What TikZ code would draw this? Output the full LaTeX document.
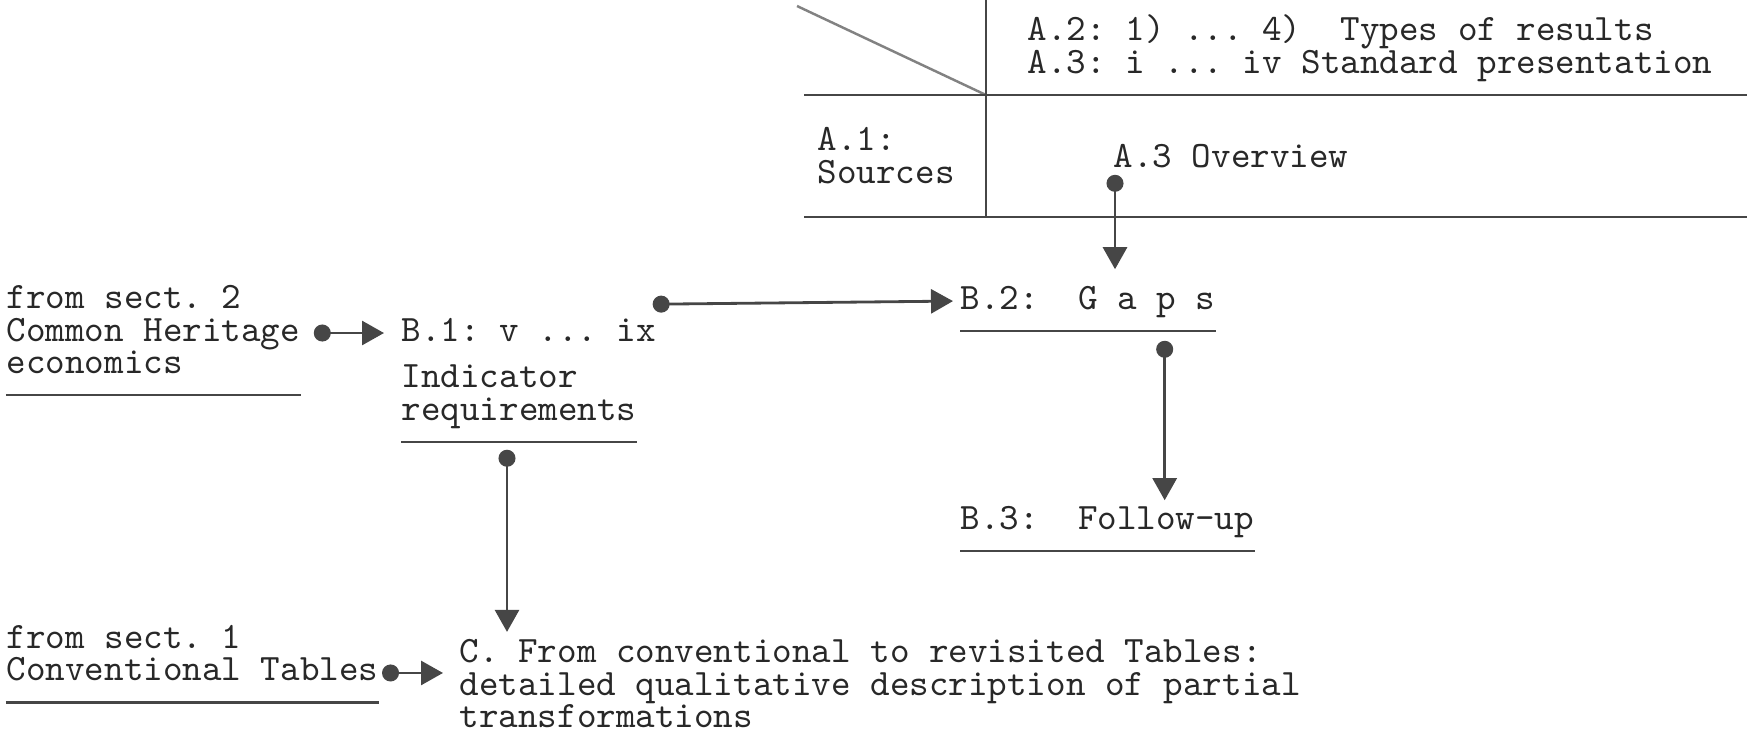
\documentclass[tikz,border=0pt]{standalone}
\usepackage{fontspec}
\usepackage{tikz}
\usetikzlibrary{arrows.meta}
\definecolor{inkDark}{RGB}{40,40,40}
\definecolor{ruleGray}{RGB}{70,70,70}
\definecolor{diagGray}{RGB}{130,130,130}
\frenchspacing

\begin{document}
\begin{tikzpicture}[
  txt/.style={inner sep=0pt, anchor=west, align=left, text=inkDark, text depth=0.07cm,
    font=\ttfamily\fontsize{10.6}{9.2}\selectfont},
  rule/.style={ruleGray, line width=0.7pt},
  link/.style={ruleGray, line width=0.8pt, {Circle[length=0.17cm]}-{Triangle[length=0.22cm,width=0.24cm]}}
]
\useasboundingbox (0,0) rectangle (17.47,7.49);
% part A: the table head
\draw[diagGray, line width=0.7pt] (7.97,7.43) -- (9.86,6.54);
\draw[rule] (9.86,7.49) -- (9.86,5.32);
\draw[rule] (8.04,6.54) -- (17.47,6.54);
\draw[rule] (8.04,5.32) -- (17.47,5.32);
\node[txt] (a2) at (10.27,7.015) {A.2: 1) ... 4)~~Types of results\\A.3: i ... iv Standard presentation};
\node[txt] (a1) at (8.17,5.90) {A.1:\\Sources};
\node[txt] (ov) at (11.13,5.90) {A.3 Overview};
% part B
\node[txt] (ch) at (0.06,4.16) {from sect. 2\\Common Heritage\\economics};
\node[txt] (b1) at (4.01,4.16) {B.1: v ... ix};
\node[txt] (ind) at (4.01,3.53) {Indicator\\requirements};
\node[txt] (b2) at (9.60,4.48) {B.2:~~G a p s};
\node[txt] (b3) at (9.60,2.28) {B.3:~~Follow-up};
% part C
\node[txt] (ct) at (0.06,0.925) {from sect. 1\\Conventional Tables};
\node[txt] (cn) at (4.59,0.62) {C. From conventional to revisited Tables:\\detailed qualitative description of partial\\transformations};
% underlines
\foreach \n in {ch,ind,b2,b3,ct}
  \draw[rule] ([yshift=-0.14cm]\n.south west) -- ([yshift=-0.14cm]\n.south east);
% connectors
\draw[link, shorten <=0.13cm, shorten >=0.17cm] (ch.east) -- (b1.west);
\draw[link, shorten >=0.07cm] ([shift={(-0.04,0.13)}]b1.north east) -- (b2.west);
\draw[link, shorten >=0.16cm] ([xshift=0.02cm]ov.south west) -- ([xshift=0.02cm]ov.south west |- b2.north);
\draw[link, shorten <=0.24cm, shorten >=0.05cm] ([xshift=-0.51cm]b2.south east) -- ([xshift=-0.51cm]b2.south east |- b3.north);
\draw[link, shorten <=0.22cm, shorten >=0.07cm] ([xshift=1.06cm]ind.south west) -- ([xshift=1.06cm]ind.south west |- cn.north);
\draw[link, shorten <=0.03cm, shorten >=0.16cm] ([yshift=0.155cm]ct.south east) -- ([yshift=0.155cm]ct.south east -| cn.west);
\end{tikzpicture}
\end{document}
